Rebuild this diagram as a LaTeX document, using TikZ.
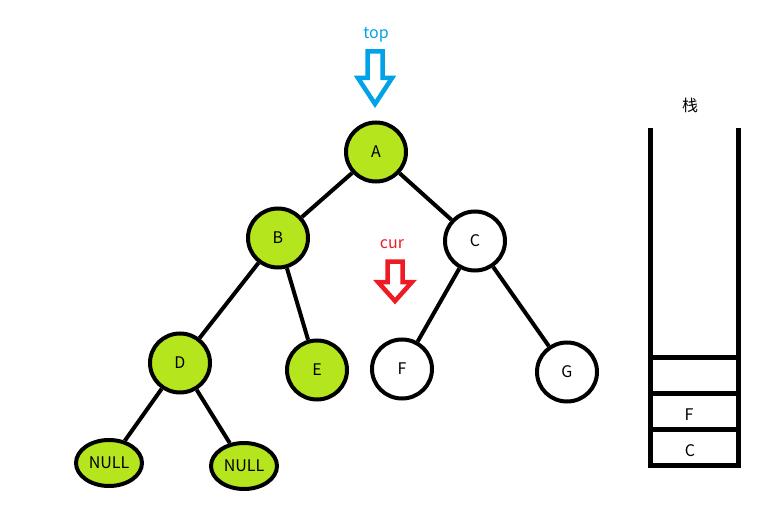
\documentclass[tikz,border=0pt]{standalone}
\usepackage{fontspec}
\setmainfont{Noto Sans CJK SC}
\usetikzlibrary{shapes.geometric}
\definecolor{treegreen}{HTML}{B5E61D}
\definecolor{topblue}{HTML}{00A2E8}
\definecolor{curred}{HTML}{ED1C24}
\begin{document}
\begin{tikzpicture}[x=1pt,y=-1pt,
    font=\fontsize{16}{19}\selectfont,
    treenode/.style={ellipse, draw=black, line width=4pt, inner sep=0pt,
      minimum width=60pt, minimum height=59pt},
    greennode/.style={treenode, fill=treegreen},
    whitenode/.style={treenode, fill=white},
    nullnode/.style={greennode, minimum width=66pt, minimum height=46pt},
    edge/.style={line width=4pt},
    stackwall/.style={line width=5pt}]
    \useasboundingbox (0,0) rectangle (781,529);

    % Arbol binario
    \node[greennode] (A) at (376,152) {A};
    \node[greennode] (B) at (278,238) {B};
    \node[whitenode] (C) at (475,241) {C};
    \node[greennode] (D) at (180,363) {D};
    \node[greennode] (E) at (317,370) {E};
    \node[whitenode] (F) at (402,369) {F};
    \node[whitenode] (G) at (567,372) {G};
    \node[nullnode] (Dl) at (109,463) {NULL};
    \node[nullnode] (Dr) at (244,466) {NULL};

    % Aristas
    \draw[edge] (A) -- (B);
    \draw[edge] (A) -- (C);
    \draw[edge] (B) -- (D);
    \draw[edge] (B) -- (E);
    \draw[edge] (C) -- (F);
    \draw[edge] (C) -- (G);
    \draw[edge] (D) -- (Dl);
    \draw[edge] (D) -- (Dr);

    % Flecha top
    \node[topblue] (toplabel) at (376,35) {top};
    \draw[topblue, line width=4.5pt, fill=white]
      (367.5,51.5) -- (382.5,51.5) -- (382.5,78) -- (392,78)
      -- (375,104) -- (358,78) -- (367.5,78) -- cycle;

    % Flecha cur
    \node[curred] (curlabel) at (392,244) {cur};
    \draw[curred, line width=4.5pt, fill=white]
      (387.5,261.5) -- (402.5,261.5) -- (402.5,282) -- (412,282)
      -- (395,301) -- (378,282) -- (387.5,282) -- cycle;

    % Pila
    \node (stacklabel) at (690,105) {栈};
    \draw[stackwall] (650,128) -- (650,465) -- (738,465) -- (738,128);
    \draw[stackwall] (650,357) -- (738,357);
    \draw[stackwall] (650,393) -- (738,393);
    \draw[stackwall] (650,429) -- (738,429);
    \node (slotF) at (689,415) {F};
    \node (slotC) at (690,451) {C};
\end{tikzpicture}
\end{document}
